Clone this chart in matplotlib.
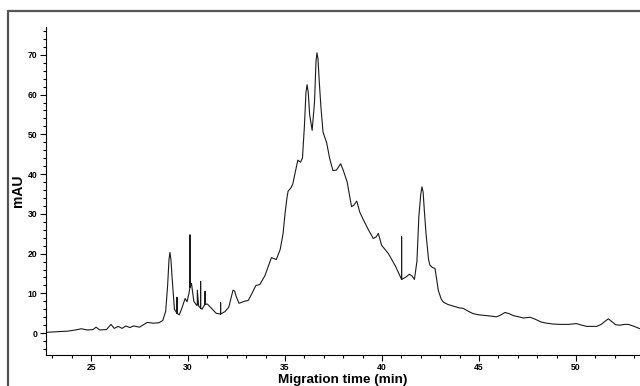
import matplotlib
matplotlib.use("Agg")
import matplotlib.pyplot as plt
from matplotlib.patches import Rectangle
from matplotlib.ticker import MultipleLocator

# Electropherogram trace
time_min = [22.68, 23.0, 23.4, 23.8, 24.2, 24.5, 24.8, 25.1, 25.26, 25.45, 25.8,
            26.03, 26.2, 26.4, 26.6, 26.8, 27.0, 27.2, 27.5, 27.9, 28.2, 28.5,
            28.7, 28.85, 28.95, 29.02, 29.07, 29.12, 29.18, 29.3, 29.43, 29.43, 29.43, 29.55,
            29.7, 29.85, 29.95, 30.05, 30.1, 30.1, 30.1, 30.18, 30.3, 30.45,
            30.48, 30.48, 30.55, 30.65, 30.65, 30.65, 30.72, 30.88, 30.88,
            30.88, 31.0, 31.2, 31.45, 31.68, 31.68, 31.68, 31.9, 32.1, 32.25,
            32.32, 32.4, 32.5, 32.63, 32.9, 33.1, 33.3, 33.5, 33.7, 33.97, 34.15,
            34.3, 34.55, 34.75, 34.9, 35.0, 35.1, 35.16, 35.3, 35.4, 35.55,
            35.66, 35.8, 35.9, 36.0, 36.08, 36.14, 36.2, 36.27, 36.4, 36.52, 36.6, 36.65, 36.7, 36.77,
            36.85, 36.96, 37.15, 37.3, 37.47, 37.65, 37.87, 38.0, 38.2, 38.43,
            38.55, 38.7, 38.85, 39.04, 39.3, 39.55, 39.7, 39.81, 39.98, 40.33,
            40.7, 41.01, 41.01, 41.01, 41.2, 41.41, 41.55, 41.67, 41.8, 41.9,
            42.0, 42.06, 42.12, 42.18, 42.27, 42.4, 42.47, 42.6, 42.73, 42.82, 42.9,
            43.05, 43.16, 43.4, 43.68, 43.95, 44.2, 44.45, 44.7, 45.0, 45.22,
            45.6, 45.9, 46.1, 46.34, 46.55, 46.77, 47.05, 47.29, 47.63, 47.9,
            48.2, 48.49, 48.8, 49.18, 49.6, 50.03, 50.3, 50.55, 50.8, 51.07,
            51.3, 51.5, 51.67, 51.85, 52.05, 52.27, 52.5, 52.7, 53.0, 53.3]
absorbance = [0.2, 0.3, 0.4, 0.5, 0.8, 1.1, 0.8, 0.9, 1.5, 0.8, 0.9,
              2.2, 1.2, 1.7, 1.2, 1.8, 1.4, 1.8, 1.5, 2.7, 2.5, 2.6,
              3.2, 5.5, 12.0, 18.5, 20.3, 18.5, 14.0, 6.0, 5.0, 9.0, 5.0, 4.6,
              6.5, 8.7, 7.9, 10.0, 11.5, 24.7, 11.5, 12.5, 8.0, 7.0,
              7.0, 10.8, 6.8, 6.3, 13.0, 6.3, 6.0, 7.3, 10.5,
              7.3, 7.3, 6.3, 5.0, 4.8, 7.6, 4.8, 5.4, 6.5, 9.5,
              10.8, 10.6, 9.0, 7.5, 8.0, 8.2, 10.0, 12.0, 12.2, 14.5, 17.0,
              19.0, 18.5, 21.0, 25.0, 30.0, 34.0, 35.7, 36.5, 37.5, 41.0,
              43.5, 43.0, 44.0, 52.0, 60.5, 62.5, 60.5, 55.0, 51.0, 58.0, 68.5, 70.5, 69.0, 63.0,
              57.0, 50.6, 47.8, 44.0, 40.9, 41.0, 42.6, 41.0, 38.1, 31.8,
              32.2, 33.2, 30.5, 28.5, 26.0, 23.8, 24.2, 25.1, 22.1, 20.0,
              16.8, 13.5, 24.2, 13.5, 14.0, 14.8, 14.4, 13.5, 18.0, 29.3,
              35.0, 36.8, 35.5, 31.0, 25.0, 18.5, 17.1, 16.5, 16.3, 13.5, 10.8,
              8.6, 7.8, 7.2, 6.8, 6.4, 6.2, 5.5, 4.9, 4.6, 4.5,
              4.3, 4.1, 4.5, 5.2, 4.9, 4.4, 4.1, 3.8, 4.0, 3.5,
              2.8, 2.5, 2.3, 2.2, 2.2, 2.4, 2.0, 1.7, 1.7, 1.7,
              2.2, 3.0, 3.6, 2.9, 2.1, 2.0, 2.2, 2.2, 1.7, 1.1]

x_major_ticks = [25, 30, 35, 40, 45, 50]
y_major_ticks = [0, 10, 20, 30, 40, 50, 60, 70]

fig = plt.figure(figsize=(6.4, 3.86), dpi=100)
ax = fig.add_axes([46 / 640, 31 / 386, 1 - 46 / 640, (355 - 27) / 386])

ax.plot(time_min, absorbance, color="#1a1a1a", lw=0.8)

ax.set_xlim(22.68, 53.3)
ax.set_ylim(-5.5, 77)
ax.set_xticks(x_major_ticks)
ax.set_yticks(y_major_ticks)
ax.xaxis.set_minor_locator(MultipleLocator(1))
ax.yaxis.set_minor_locator(MultipleLocator(2))
ax.tick_params(which="major", length=4, width=0.8, direction="out", pad=2,
               labelsize=6.2)
ax.tick_params(which="minor", length=2, width=0.8, direction="out")
for lab in ax.get_xticklabels() + ax.get_yticklabels():
    lab.set_fontweight("bold")
    lab.set_family("Liberation Sans")

ax.spines["top"].set_visible(False)
ax.spines["right"].set_visible(False)
ax.spines["left"].set_linewidth(0.8)
ax.spines["bottom"].set_linewidth(0.8)

ax.set_ylabel("mAU", fontsize=10, fontweight="bold", family="Liberation Sans",
              va="center")
ax.yaxis.set_label_coords(-28 / 594, 0.5)
ax.set_xlabel("Migration time (min)", fontsize=9.7, fontweight="bold",
              family="Liberation Sans", labelpad=1)

# outer frame
fig.patches.append(Rectangle((8 / 640, -0.05), 1.2, 1 - 10.5 / 386 + 0.05,
                             transform=fig.transFigure, fill=False,
                             edgecolor="#555555", lw=1.6, clip_on=False))

fig.savefig("out.png", dpi=100)
